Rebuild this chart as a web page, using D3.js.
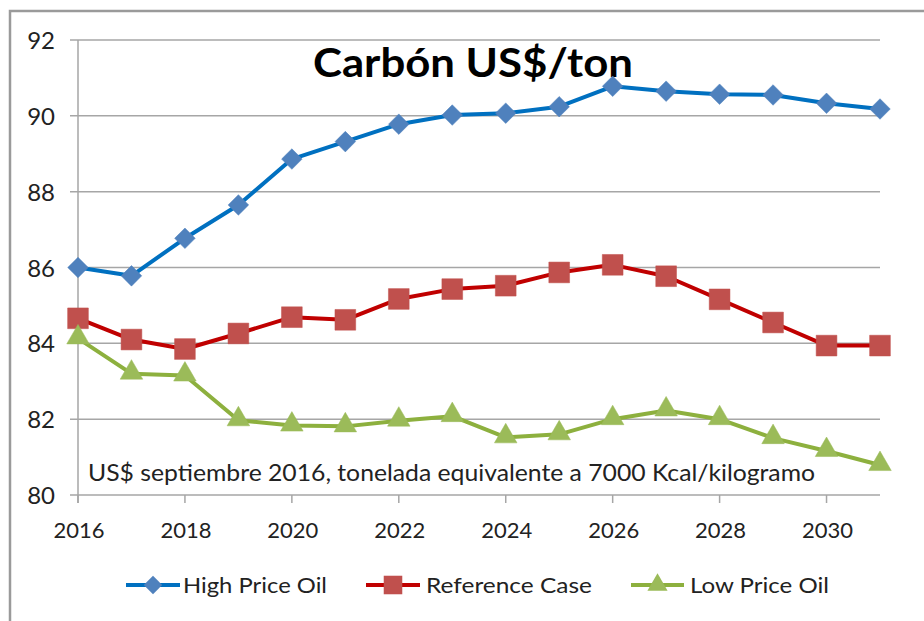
<!DOCTYPE html>
<html><head><meta charset="utf-8">
<script src="https://cdn.jsdelivr.net/npm/d3@7"></script>
<style>html,body{margin:0;padding:0;background:#fff;}svg{display:block;}</style>
</head><body>
<svg id="c" width="924" height="621"></svg>
<script>
const years = [2016,2017,2018,2019,2020,2021,2022,2023,2024,2025,2026,2027,2028,2029,2030,2031];
const highPriceOil = [86.0,85.78,86.77,87.65,88.86,89.32,89.78,90.02,90.07,90.24,90.78,90.65,90.57,90.55,90.33,90.18];
const referenceCase = [84.66,84.1,83.85,84.26,84.69,84.62,85.17,85.43,85.52,85.87,86.07,85.77,85.16,84.55,83.94,83.94];
const lowPriceOil = [84.13,83.2,83.15,81.97,81.83,81.81,81.96,82.08,81.52,81.6,82.0,82.23,82.0,81.5,81.16,80.79];
const xTicks = [2016,2018,2020,2022,2024,2026,2028,2030];
const yTicks = [80,82,84,86,88,90,92];
const seriesNames = ["High Price Oil","Reference Case","Low Price Oil"];
const title = "Carbón US$/ton";
const note = "US$ septiembre 2016, tonelada equivalente a 7000 Kcal/kilogramo";

const svg = d3.select("#c");
const font = "Lato, 'Open Sans', sans-serif";
// outer frame
svg.append("path").attr("d","M10,621 V11 H924").attr("fill","none").attr("stroke","#9a9a9a").attr("stroke-width",2.5);

const x = d3.scaleLinear().domain([2016,2031]).range([78,880]);
const y = d3.scaleLinear().domain([80,92]).range([495,40]);

// gridlines
svg.append("g").selectAll("line").data(yTicks).join("line")
  .attr("x1",70).attr("x2",880).attr("y1",d=>y(d)).attr("y2",d=>y(d))
  .attr("stroke","#a6a6a6").attr("stroke-width",1.5);
// y axis line
svg.append("line").attr("x1",78).attr("x2",78).attr("y1",40).attr("y2",503).attr("stroke","#a6a6a6").attr("stroke-width",1.5);
// x ticks
svg.append("g").selectAll("line").data(xTicks).join("line")
  .attr("x1",d=>x(d)).attr("x2",d=>x(d)).attr("y1",495).attr("y2",503)
  .attr("stroke","#a6a6a6").attr("stroke-width",1.5);
// y labels
svg.append("g").selectAll("text").data(yTicks).join("text")
  .attr("x",55).attr("y",d=>y(d)+9).attr("text-anchor","end")
  .attr("font-family",font).attr("font-size",24).attr("fill","#222").text(d=>d);
// x labels
svg.append("g").selectAll("text").data(xTicks).join("text")
  .attr("x",d=>x(d)+1).attr("y",538).attr("text-anchor","middle")
  .attr("font-family",font).attr("font-size",22).attr("fill","#222").text(d=>d);

// title
svg.append("text").attr("x",473).attr("y",77).attr("text-anchor","middle")
  .attr("font-family",font).attr("font-weight","bold").attr("font-size",41)
  .attr("textLength",320).attr("lengthAdjust","spacingAndGlyphs").attr("fill","#000").text(title);
// note
svg.append("text").attr("x",88).attr("y",481)
  .attr("font-family",font).attr("font-size",23).attr("textLength",727).attr("lengthAdjust","spacingAndGlyphs")
  .attr("fill","#222").text(note);

const series = [
  {name:seriesNames[0], vals:highPriceOil, line:"#0070C0", mark:"#4F81BD", sym:d3.symbolDiamond2, size:270},
  {name:seriesNames[1], vals:referenceCase, line:"#C00000", mark:"#C0504D", sym:d3.symbolSquare, size:430},
  {name:seriesNames[2], vals:lowPriceOil, line:"#8DB03E", mark:"#9BBB59", sym:d3.symbolTriangle, size:220}
];
const lineGen = d3.line().x((d,i)=>x(years[i])).y(d=>y(d));
series.forEach(s=>{
  svg.append("path").attr("d",lineGen(s.vals)).attr("fill","none").attr("stroke",s.line).attr("stroke-width",4).attr("stroke-linejoin","round");
  svg.append("g").selectAll("path").data(s.vals).join("path")
    .attr("d",d3.symbol().type(s.sym).size(s.size))
    .attr("transform",(d,i)=>`translate(${x(years[i])},${y(d)+(s.sym===d3.symbolTriangle?-1:0)})`)
    .attr("fill",s.mark).attr("stroke",s.mark).attr("stroke-width",0.5);
});

// legend
const leg = [
  {x1:126,x2:180,tx:183,tl:144},
  {x1:366,x2:420,tx:426,tl:166},
  {x1:631,x2:684,tx:690,tl:139}
];
series.forEach((s,i)=>{
  const L = leg[i];
  svg.append("line").attr("x1",L.x1).attr("x2",L.x2).attr("y1",585).attr("y2",585).attr("stroke",s.line).attr("stroke-width",4);
  svg.append("path").attr("d",d3.symbol().type(s.sym).size(s.size*0.8))
    .attr("transform",`translate(${(L.x1+L.x2)/2},585)`).attr("fill",s.mark);
  svg.append("text").attr("x",L.tx).attr("y",593).attr("font-family",font).attr("font-size",22)
    .attr("textLength",L.tl).attr("lengthAdjust","spacingAndGlyphs").attr("fill","#222").text(s.name);
});
</script>
</body></html>
